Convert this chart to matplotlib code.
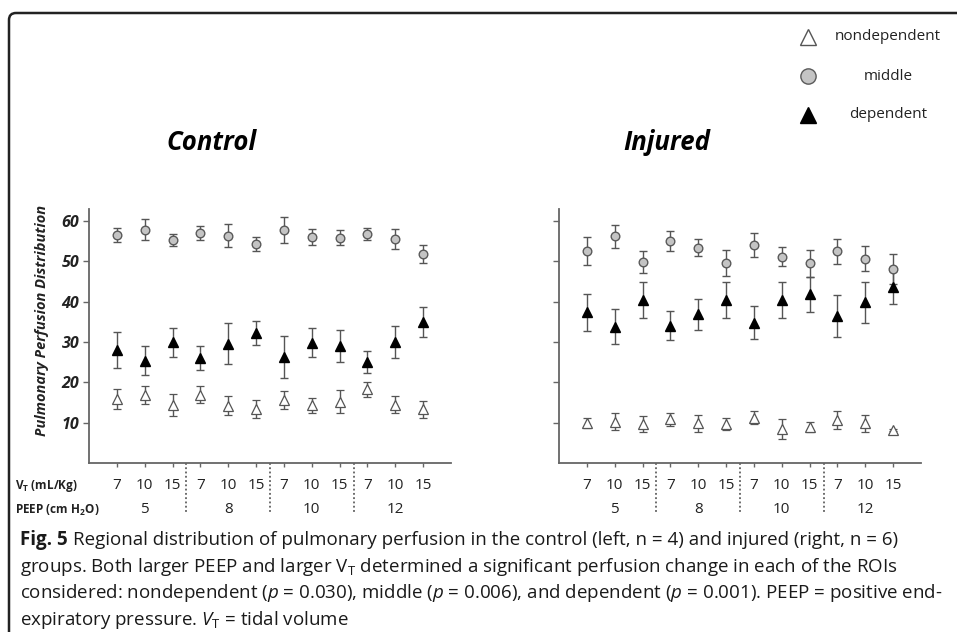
import matplotlib
matplotlib.use('Agg')
import matplotlib.pyplot as plt
import matplotlib.transforms as mtransforms
from matplotlib.lines import Line2D
from matplotlib.patches import FancyBboxPatch

plt.rcParams['font.family'] = ['Open Sans', 'DejaVu Sans']
plt.rcParams['mathtext.fontset'] = 'custom'
plt.rcParams['mathtext.rm'] = 'Open Sans'
plt.rcParams['mathtext.it'] = 'Open Sans:italic'

# x categories
vt_labels = ['7', '10', '15'] * 4
peep_labels = ['5', '8', '10', '12']

# control group (n = 4)
ctrl_mid = [56.6, 57.8, 55.2, 57.0, 56.4, 54.3, 57.7, 56.0, 55.9, 56.8, 55.6, 51.9]
ctrl_mid_err = [1.8, 2.6, 1.5, 1.7, 2.8, 1.7, 3.2, 2.0, 1.9, 1.5, 2.4, 2.2]
ctrl_dep = [28.0, 25.4, 30.0, 26.0, 29.6, 32.2, 26.3, 29.8, 29.1, 25.0, 30.1, 34.9]
ctrl_dep_err = [4.4, 3.5, 3.6, 3.0, 5.1, 2.9, 5.3, 3.6, 4.0, 2.7, 4.0, 3.7]
ctrl_nondep = [15.8, 16.8, 14.4, 16.9, 14.2, 13.4, 15.7, 14.3, 15.2, 18.3, 14.5, 13.3]
ctrl_nondep_err = [2.5, 2.2, 2.7, 2.1, 2.3, 2.3, 2.2, 1.9, 2.8, 1.9, 2.0, 2.1]

# injured group (n = 6)
inj_mid = [52.6, 56.2, 49.9, 55.1, 53.4, 49.7, 54.0, 51.2, 49.5, 52.5, 50.6, 48.1]
inj_mid_err = [3.4, 2.9, 2.8, 2.4, 2.1, 3.2, 3.0, 2.3, 3.4, 3.1, 3.1, 3.8]
inj_dep = [37.4, 33.8, 40.4, 34.1, 36.9, 40.4, 34.8, 40.4, 41.8, 36.5, 39.9, 43.6]
inj_dep_err = [4.6, 4.4, 4.4, 3.6, 3.9, 4.4, 4.1, 4.4, 4.3, 5.2, 5.1, 4.1]
inj_nondep = [10.0, 10.2, 9.7, 10.8, 9.8, 9.6, 11.2, 8.4, 9.0, 10.7, 9.8, 8.2]
inj_nondep_err = [1.2, 2.1, 2.0, 1.7, 2.1, 1.5, 1.6, 2.4, 1.2, 2.3, 2.1, 0.3]

W, H = 957, 632
fig = plt.figure(figsize=(W / 100, H / 100), dpi=100)

def fx(px):
    return px / W

def fy(py):
    return 1 - py / H

# frame with a rounded top-left corner
frame = FancyBboxPatch((9, -30), 1100, H - 13 + 30,
                       boxstyle='round,pad=0,rounding_size=7',
                       transform=mtransforms.IdentityTransform(),
                       fill=False, lw=1.8, ec='#222222')
fig.patches.append(frame)

x = list(range(1, 13))
ebar_kw = dict(ls='none', ecolor='#555555', elinewidth=1.0, capsize=2.6, capthick=1.0)

def panel(left_px, mid, mid_err, dep, dep_err, nondep, nondep_err, show_y):
    ax = fig.add_axes([fx(left_px), fy(463), fx(362), 254 / H])
    ax.errorbar(x, mid, yerr=mid_err, marker='o', ms=6.2, mfc='#c4c4c4', mec='#5a5a5a', mew=1.0, **ebar_kw)
    ax.errorbar(x, dep, yerr=dep_err, marker='^', ms=6.6, mfc='black', mec='black', **ebar_kw)
    ax.errorbar(x, nondep, yerr=nondep_err, marker='^', ms=6.6, mfc='white', mec='#555555', mew=0.9, **ebar_kw)
    ax.set_xlim(0, 13)
    ax.set_ylim(0, 63)
    for s in ['top', 'right']:
        ax.spines[s].set_visible(False)
    for s in ['left', 'bottom']:
        ax.spines[s].set_color('#666666')
        ax.spines[s].set_linewidth(1.3)
    ax.set_xticks(x)
    ax.set_xticklabels(vt_labels, fontsize=11, color='#222222')
    ax.tick_params(axis='x', direction='out', length=3, width=1, color='#666666', pad=8)
    ax.set_yticks([10, 20, 30, 40, 50, 60])
    ax.tick_params(axis='y', direction='out', length=4, width=1, color='#666666', pad=3)
    if show_y:
        ax.set_yticklabels(['10', '20', '30', '40', '50', '60'], fontsize=11.5,
                           fontweight='bold', fontstyle='italic', color='#222222')
    else:
        ax.set_yticklabels([])
    blend = mtransforms.blended_transform_factory(ax.transData, ax.transAxes)
    for i, lab in enumerate(peep_labels):
        ax.text(2 + 3 * i, -0.185, lab, transform=blend, ha='center', va='center',
                fontsize=11, color='#222222')
    for xs in [3.5, 6.5, 9.5]:
        ax.add_line(Line2D([xs, xs], [0, -0.2], transform=blend, clip_on=False,
                           ls=(0, (1.2, 1.6)), lw=1.1, color='#444444'))
    return ax

panel(89, ctrl_mid, ctrl_mid_err, ctrl_dep, ctrl_dep_err, ctrl_nondep, ctrl_nondep_err, True)
panel(559, inj_mid, inj_mid_err, inj_dep, inj_dep_err, inj_nondep, inj_nondep_err, False)

fig.text(fx(212), fy(143), 'Control', ha='center', va='center', fontsize=18.5,
         fontweight='bold', fontstyle='italic')
fig.text(fx(667), fy(143), 'Injured', ha='center', va='center', fontsize=18.5,
         fontweight='bold', fontstyle='italic')
fig.text(fx(42), fy(320), 'Pulmonary Perfusion Distribution', rotation=90, ha='center',
         va='center', fontsize=10.5, fontweight='bold', fontstyle='italic', color='#222222')

fig.text(fx(15), fy(486), 'V$_\\mathregular{T}$ (mL/Kg)', ha='left', va='center',
         fontsize=8.5, fontweight='bold', color='#222222')
fig.text(fx(15), fy(510), 'PEEP (cm H$_\\mathregular{2}$O)', ha='left', va='center',
         fontsize=8.5, fontweight='bold', color='#222222')

# legend
leg_items = [('nondependent', '^', 'white', '#555555'),
             ('middle', 'o', '#c4c4c4', '#5a5a5a'),
             ('dependent', '^', 'black', 'black')]
for i, (lab, mk, fc, ec) in enumerate(leg_items):
    yy = 37 + 39 * i
    fig.add_artist(Line2D([fx(808)], [fy(yy)], transform=fig.transFigure, marker=mk,
                          ms=12 if mk == '^' else 11, mfc=fc, mec=ec, mew=1.0, ls='none'))
    fig.text(fx(888), fy(yy), lab, ha='center', va='center', fontsize=11, color='#222222')

# caption
fig.canvas.draw()
t0 = fig.text(fx(20), fy(540), 'Fig. 5', ha='left', va='center', fontsize=13.5,
              fontweight='bold', color='#1a1a1a')
bb = t0.get_window_extent(fig.canvas.get_renderer())
fig.text(bb.x1 / W + fx(5), fy(540),
         'Regional distribution of pulmonary perfusion in the control (left, n = 4) and injured (right, n = 6)',
         ha='left', va='center', fontsize=13.5, color='#1a1a1a')
cap_lines = [
    'groups. Both larger PEEP and larger V$_\\mathregular{T}$ determined a significant perfusion change in each of the ROIs',
    'considered: nondependent ($\\it{p}$ = 0.030), middle ($\\it{p}$ = 0.006), and dependent ($\\it{p}$ = 0.001). PEEP = positive end-',
    'expiratory pressure. $\\it{V}_\\mathregular{T}$ = tidal volume',
]
for i, line in enumerate(cap_lines):
    fig.text(fx(20), fy(567 + 26.5 * i), line, ha='left', va='center', fontsize=13.5,
             color='#1a1a1a')

fig.savefig('out.png', dpi=100)
